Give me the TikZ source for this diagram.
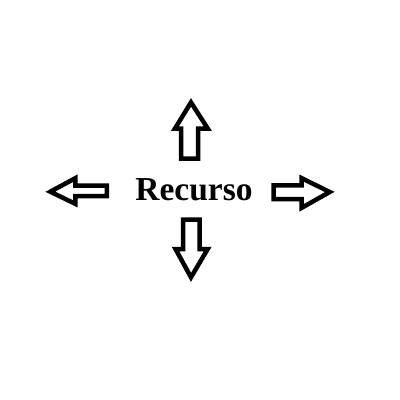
\documentclass[tikz,border=0pt]{standalone}
\usepackage{fontspec}
\setmainfont{Liberation Serif}
\begin{document}
\begin{tikzpicture}[x=1pt,y=-1pt,
  arrowshape/.style={draw=black,line width=4.5pt,line join=miter,miter limit=10,fill=white}]
\useasboundingbox (0,0) rectangle (400,400);
\fill[white] (0,0) rectangle (400,400);
% up
\draw[arrowshape] (191,102.4) -- (207.7,128.5) -- (198,128.5) -- (198,158.5) -- (181,158.5) -- (181,128.5) -- (175,128.5) -- cycle;
% down
\draw[arrowshape] (191,277.3) -- (207.7,249) -- (199.5,249) -- (199.5,219.5) -- (183,219.5) -- (183,249) -- (175.5,249) -- cycle;
% left
\draw[arrowshape] (50.3,191.7) -- (75.3,178.2) -- (75.3,185.5) -- (106.8,185.5) -- (106.8,196) -- (75.3,196) -- (75.3,203.8) -- cycle;
% right
\draw[arrowshape] (329.7,192) -- (301.7,178.2) -- (301.7,185.3) -- (273.5,185.3) -- (273.5,199) -- (301.7,199) -- (301.7,207.8) -- cycle;
\node[font=\fontsize{33.5}{40}\selectfont\bfseries, inner sep=0pt, anchor=base] (recurso) at (194,200) {Recurso};
\end{tikzpicture}
\end{document}
